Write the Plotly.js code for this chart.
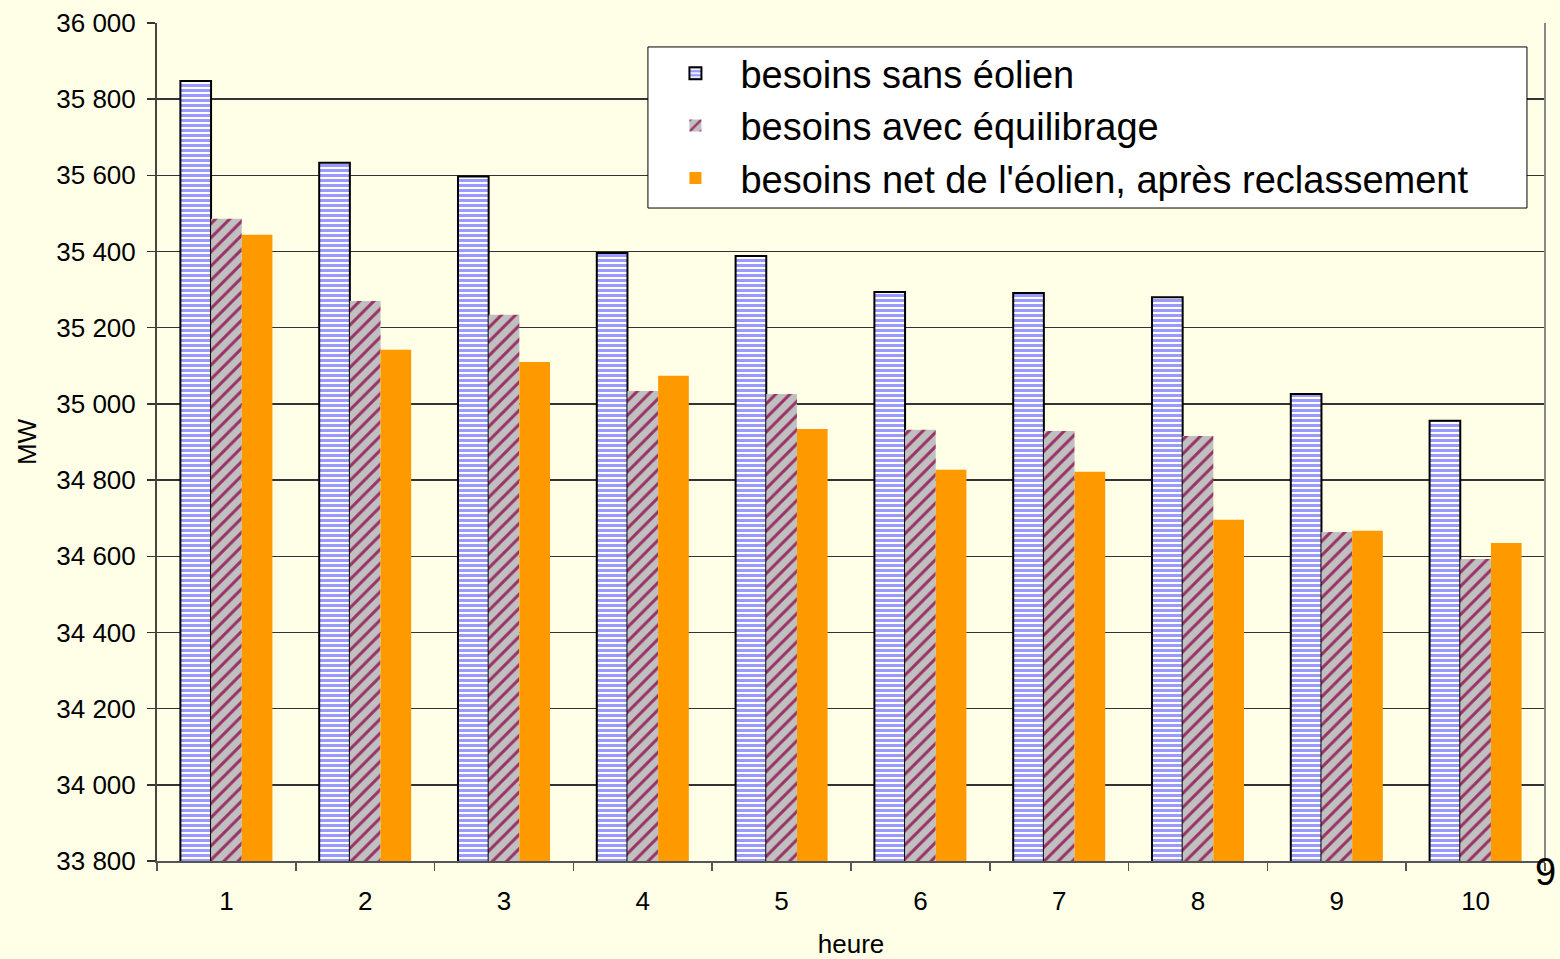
<!DOCTYPE html>
<html>
<head>
<meta charset="utf-8">
<script src="https://cdn.plot.ly/plotly-3.0.1.min.js"></script>
<style>html,body{margin:0;padding:0;background:#ffffe7;}#chart{width:1560px;height:959px;}</style>
</head>
<body>
<div id="chart"></div>
<script>
const heures = ["1","2","3","4","5","6","7","8","9","10"];
const sansEolien = [35848, 35633, 35597, 35396, 35388, 35294, 35291, 35280, 35026, 34956];
const avecEquilibrage = [35486, 35270, 35234, 35034, 35026, 34932, 34929, 34916, 34664, 34593];
const netApresReclassement = [35444, 35142, 35110, 35074, 34934, 34827, 34822, 34696, 34667, 34635];
const seriesNames = ["besoins sans éolien", "besoins avec équilibrage", "besoins net de l'éolien, après reclassement"];

const FONT = "Liberation Sans, Arial, sans-serif";

const traces = [
  {
    type: "bar", x: heures, y: sansEolien, name: seriesNames[0], legendgroup: "a",
    marker: {
      color: "#ffffff",
      line: {color: "#000000", width: 2},
      pattern: {shape: "-", fgcolor: "#9999ff", bgcolor: "#ffffff", size: 5, solidity: 0.6, fillmode: "replace"}
    }
  },
  {
    type: "bar", x: heures, y: avecEquilibrage, name: seriesNames[1], legendgroup: "b",
    marker: {
      color: "#c0c0c0",
      line: {width: 0},
      pattern: {shape: "/", fgcolor: "#993366", bgcolor: "#c0c0c0", size: 10, solidity: 0.3, fillmode: "replace"}
    }
  },
  {
    type: "bar", x: heures, y: netApresReclassement, name: seriesNames[2], legendgroup: "c",
    marker: {color: "#ff9900", line: {width: 0}}
  }
];

const layout = {
  width: 1560, height: 959,
  paper_bgcolor: "#ffffe7", plot_bgcolor: "#ffffe7",
  separators: ", ",
  margin: {l: 157, r: 15, t: 23, b: 98},
  barmode: "group", bargap: 0.337, bargroupgap: 0,
  font: {family: FONT, size: 26, color: "#000000"},
  showlegend: true,
  legend: {
    x: 0.3555, y: 0.9773, xanchor: "left", yanchor: "top",
    bgcolor: "rgba(0,0,0,0)", borderwidth: 0,
    font: {family: FONT, size: 38, color: "#000000"},
    traceorder: "normal", itemwidth: 80, tracegroupgap: 1
  },
  xaxis: {
    type: "category",
    tickson: "boundaries",
    ticks: "outside", ticklen: 8, tickcolor: "#555555", tickwidth: 1.5,
    showline: true, linecolor: "#555555", linewidth: 2,
    showgrid: false, zeroline: false,
    ticklabelstandoff: 16,
    tickfont: {family: FONT, size: 26, color: "#000000"},
    title: {text: "heure", font: {family: FONT, size: 26, color: "#000000"}, standoff: 22},
    automargin: false
  },
  yaxis: {
    range: [33800, 36000], dtick: 200, tick0: 33800,
    tickformat: ",",
    ticks: "outside", ticklen: 8, tickcolor: "#333333", tickwidth: 1.5,
    showline: true, linecolor: "#444444", linewidth: 2,
    showgrid: true, gridcolor: "#333333", gridwidth: 1.5,
    zeroline: false,
    ticklabelstandoff: 6,
    tickfont: {family: FONT, size: 26, color: "#000000"},
    title: {text: "MW", font: {family: FONT, size: 26, color: "#000000"}, standoff: 12},
    automargin: false
  },
  shapes: [
    {type: "line", xref: "paper", yref: "paper", x0: 1, x1: 1, y0: 0, y1: 1, line: {color: "#888888", width: 2}},
    {type: "rect", xref: "paper", yref: "paper", x0: 0.3537, x1: 0.987, y0: 0.7792, y1: 0.9714,
     fillcolor: "#ffffff", line: {color: "#000000", width: 1}, layer: "above"}
  ],
  annotations: [
    {xref: "paper", yref: "paper", x: 1.0007, y: -0.013, xanchor: "center", yanchor: "middle",
     text: "9", showarrow: false, font: {family: FONT, size: 38, color: "#000000"}}
  ]
};

Plotly.newPlot("chart", traces, layout, {displayModeBar: false, staticPlot: true});
</script>
</body>
</html>
